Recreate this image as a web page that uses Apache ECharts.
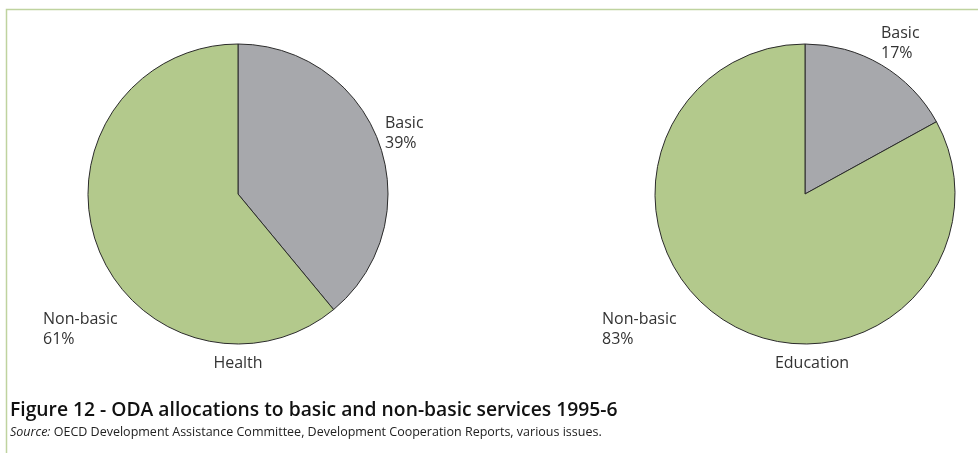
<!DOCTYPE html>
<html><head><meta charset="utf-8">
<script src="https://cdn.jsdelivr.net/npm/echarts@6/dist/echarts.min.js"></script>
<style>html,body{margin:0;padding:0;background:#fff}#c{width:978px;height:453px}</style>
</head><body><div id="c"></div>
<script>
const categories = ['Basic', 'Non-basic'];
const healthValues = [39, 61];
const educationValues = [17, 83];
const pieNames = ['Health', 'Education'];
const figTitle = 'Figure 12 - ODA allocations to basic and non-basic services 1995-6';
const sourceText = 'OECD Development Assistance Committee, Development Cooperation Reports, various issues.';

const colors = ['#a7a8ac', '#b3c98c'];
const font = "'Open Sans', 'Noto Sans', sans-serif";
const chart = echarts.init(document.getElementById('c'), null, {renderer: 'canvas'});

function pie(values, cx, labelPos) {
  return {
    type: 'pie', center: [cx, 194], radius: 150, startAngle: 90, clockwise: true,
    silent: true, animation: false,
    data: categories.map((c, i) => ({name: c, value: values[i], itemStyle: {color: colors[i]}})),
    itemStyle: {borderColor: '#2b2b2b', borderWidth: 1},
    label: {show: true, position: 'outside', formatter: p => p.name + '\n' + p.value + '%',
      fontFamily: font, fontSize: 16, color: '#333', lineHeight: 20, align: 'left',
      overflow: 'none', width: 200},
    labelLine: {show: false},
    labelLayout: p => ({x: labelPos[p.dataIndex][0], y: labelPos[p.dataIndex][1], align: 'left', verticalAlign: 'top'})
  };
}

chart.setOption({
  backgroundColor: '#fff',
  title: [
    {text: figTitle, left: 10, top: 401, padding: 0, textStyle: {fontFamily: font, fontSize: 19.3, fontWeight: 600, color: '#111'}},
    {text: '{i|Source:} ' + sourceText, left: 10, top: 426, padding: 0, textStyle: {fontFamily: font, fontSize: 12.5, fontWeight: 'normal', color: '#222',
      rich: {i: {fontStyle: 'italic', fontFamily: font, fontSize: 12.5, color: '#222'}}}}
  ],
  graphic: [
    {type: 'rect', shape: {x: 6.5, y: 9.5, width: 1000, height: 500}, style: {fill: 'none', stroke: '#bfd39f', lineWidth: 1.5}, silent: true},
    {type: 'text', x: 238, y: 355, style: {text: pieNames[0], align: 'center', verticalAlign: 'top', font: "16px 'Open Sans', sans-serif", fill: '#333'}, silent: true},
    {type: 'text', x: 812, y: 355, style: {text: pieNames[1], align: 'center', verticalAlign: 'top', font: "16px 'Open Sans', sans-serif", fill: '#333'}, silent: true}
  ],
  series: [
    pie(healthValues, 238, [[385, 113], [43, 309]]),
    pie(educationValues, 805, [[881, 23], [602, 309]])
  ]
});
</script></body></html>
